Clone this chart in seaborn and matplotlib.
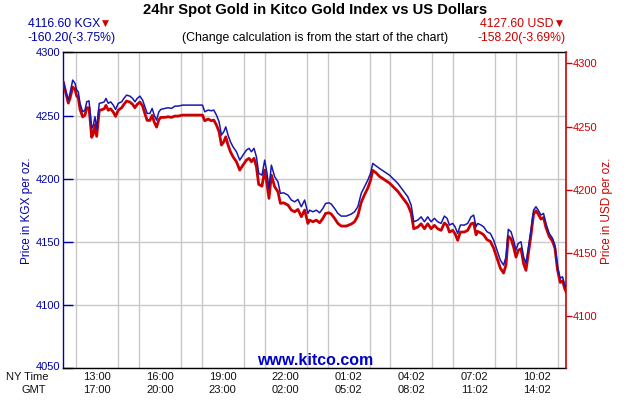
import matplotlib
matplotlib.use("Agg")
import matplotlib.pyplot as plt
import matplotlib.transforms as mtransforms
import seaborn as sns
import pandas as pd

# hours after 12:00 NY time
hours = [-0.605, -0.476, -0.367, -0.286, -0.157, -0.048, 0.033, 0.110, 0.190, 0.319,
         0.429, 0.510, 0.619, 0.667, 0.748, 0.824, 0.905, 0.986, 1.110, 1.224,
         1.348, 1.429, 1.538, 1.652, 1.776, 1.890, 2.014, 2.176, 2.286, 2.414,
         2.571, 2.700, 2.810, 2.919, 3.048, 3.176, 3.286, 3.395, 3.524, 3.633,
         3.729, 3.843, 3.952, 4.048, 4.238, 4.395, 4.557, 4.714, 4.871, 5.081,
         6.033, 6.143, 6.300, 6.462, 6.571, 6.700, 6.824, 6.938, 7.048, 7.143,
         7.252, 7.367, 7.490, 7.652, 7.810, 7.967, 8.129, 8.252, 8.367, 8.490,
         8.605, 8.714, 8.871, 9.000, 9.110, 9.205, 9.319, 9.476, 9.633, 9.748,
         9.905, 10.110, 10.271, 10.429, 10.586, 10.748, 10.905, 11.062, 11.143, 11.300,
         11.462, 11.619, 11.776, 11.905, 12.062, 12.176, 12.333, 12.490, 12.652, 12.890,
         13.129, 13.286, 13.443, 13.605, 13.762, 13.919, 14.048, 14.157, 14.319, 14.476,
         14.714, 14.952, 15.190, 15.348, 15.586, 15.824, 15.986, 16.110, 16.300, 16.462,
         16.619, 16.776, 16.938, 17.095, 17.252, 17.414, 17.571, 17.700, 17.810, 17.967,
         18.081, 18.205, 18.333, 18.524, 18.681, 18.843, 18.967, 19.081, 19.157, 19.319,
         19.443, 19.605, 19.762, 19.919, 20.081, 20.238, 20.395, 20.510, 20.619, 20.748,
         20.871, 20.986, 21.095, 21.224, 21.348, 21.462, 21.571, 21.700, 21.824, 21.938,
         22.048, 22.176, 22.300, 22.414, 22.571, 22.729, 22.843, 22.967, 23.095, 23.205,
         23.319, 23.395]

kgx = [4276.7, 4268.8, 4262.3, 4267.6, 4278.1, 4275.5, 4270.2, 4268.8, 4259.7, 4253.0,
       4254.4, 4260.9, 4261.7, 4254.4, 4239.9, 4242.5, 4249.1, 4239.9, 4259.7, 4260.1,
       4260.9, 4263.6, 4259.7, 4260.9, 4258.3, 4254.9, 4259.7, 4260.9, 4263.6, 4266.2,
       4265.4, 4263.6, 4260.9, 4263.6, 4265.4, 4262.3, 4257.0, 4251.7, 4251.7, 4255.7,
       4250.4, 4246.4, 4253.0, 4254.9, 4255.7, 4256.2, 4255.7, 4257.5, 4257.5, 4258.3,
       4258.3, 4253.0, 4254.4, 4253.8, 4254.4, 4250.4, 4245.1, 4234.6, 4237.2, 4241.1,
       4234.6, 4229.3, 4225.3, 4221.4, 4214.8, 4218.8, 4222.7, 4224.1, 4221.4, 4224.1,
       4217.4, 4204.3, 4202.9, 4214.8, 4204.3, 4192.4, 4210.8, 4201.6, 4197.6, 4188.5,
       4188.9, 4187.1, 4183.2, 4181.8, 4183.7, 4177.9, 4183.2, 4172.6, 4175.2, 4173.9,
       4175.2, 4173.1, 4176.6, 4180.5, 4181.0, 4180.0, 4176.6, 4172.6, 4170.5, 4170.5,
       4172.1, 4173.9, 4177.9, 4188.5, 4193.7, 4199.0, 4204.3, 4212.2, 4210.1, 4208.2,
       4205.5, 4202.9, 4199.0, 4196.4, 4191.1, 4185.8, 4179.2, 4166.0, 4167.3, 4169.9,
       4166.0, 4169.9, 4166.0, 4168.7, 4166.0, 4164.7, 4170.5, 4168.7, 4163.4, 4164.7,
       4162.0, 4156.8, 4163.4, 4163.4, 4164.7, 4169.9, 4171.3, 4162.0, 4164.7, 4163.4,
       4162.0, 4158.1, 4156.8, 4151.5, 4143.6, 4135.7, 4131.7, 4138.3, 4160.0, 4158.1,
       4151.5, 4143.6, 4148.9, 4150.2, 4138.3, 4133.1, 4144.9, 4159.4, 4175.2, 4177.9,
       4175.2, 4171.3, 4172.6, 4164.7, 4156.8, 4152.9, 4147.6, 4130.4, 4121.2, 4122.5,
       4115.9, 4113.3]

usd = [4285.4, 4275.9, 4268.6, 4272.3, 4281.3, 4279.5, 4274.2, 4272.8, 4263.7, 4257.7,
       4259.1, 4264.9, 4264.9, 4256.8, 4241.5, 4244.1, 4251.5, 4242.3, 4262.9, 4263.3,
       4264.1, 4266.8, 4262.9, 4264.1, 4261.5, 4258.1, 4262.9, 4264.9, 4267.6, 4270.2,
       4269.4, 4267.6, 4264.9, 4267.6, 4269.4, 4266.3, 4260.2, 4254.9, 4254.9, 4258.9,
       4253.6, 4249.6, 4255.4, 4257.3, 4257.3, 4257.8, 4257.3, 4258.3, 4258.3, 4259.1,
       4259.1, 4254.6, 4256.0, 4254.6, 4255.2, 4251.2, 4245.9, 4235.4, 4238.0, 4241.9,
       4235.4, 4230.1, 4226.1, 4222.2, 4215.6, 4219.6, 4223.5, 4224.9, 4222.2, 4224.9,
       4218.2, 4204.3, 4202.9, 4215.6, 4204.3, 4193.2, 4211.6, 4202.4, 4198.4, 4189.3,
       4189.7, 4187.9, 4184.0, 4182.6, 4184.5, 4178.7, 4184.0, 4173.4, 4176.0, 4174.7,
       4176.0, 4173.9, 4177.4, 4181.3, 4181.8, 4180.8, 4177.4, 4173.4, 4171.3, 4171.3,
       4172.9, 4174.7, 4179.5, 4190.1, 4196.1, 4201.4, 4207.5, 4215.4, 4213.3, 4210.6,
       4207.9, 4205.3, 4201.4, 4198.8, 4193.5, 4188.2, 4181.6, 4169.2, 4170.5, 4173.1,
       4169.2, 4173.1, 4169.2, 4171.9, 4169.2, 4167.9, 4173.7, 4171.9, 4166.6, 4167.9,
       4165.2, 4160.0, 4166.6, 4166.6, 4167.9, 4173.1, 4173.7, 4164.4, 4167.1, 4165.8,
       4164.4, 4160.5, 4159.2, 4153.9, 4146.0, 4138.1, 4134.1, 4140.7, 4163.2, 4161.3,
       4154.7, 4146.8, 4152.1, 4153.4, 4141.5, 4136.3, 4148.9, 4164.1, 4180.7, 4183.4,
       4180.7, 4176.8, 4178.1, 4170.2, 4163.1, 4159.2, 4153.9, 4136.7, 4126.7, 4128.0,
       4121.4, 4118.8]

tick_hours = [1, 4, 7, 10, 13, 16, 19, 22]
ny_labels = ["13:00", "16:00", "19:00", "22:00", "01:02", "04:02", "07:02", "10:02"]
gmt_labels = ["17:00", "20:00", "23:00", "02:00", "05:02", "08:02", "11:02", "14:02"]
grid_hours = list(range(0, 24))
left_ticks = [4050, 4100, 4150, 4200, 4250, 4300]
right_ticks = [4100, 4150, 4200, 4250, 4300]

BLUE = "#0000A8"
LINE_BLUE = "#1818B0"
RED = "#CC0000"

df = pd.DataFrame({"hour": hours, "kgx": kgx, "usd": usd})

sns.set_style("white")
plt.rcParams["font.family"] = ["Liberation Sans", "DejaVu Sans"]

fig = plt.figure(figsize=(6.3, 4.0), dpi=100)
ax = fig.add_axes([0.1005, 0.079, 0.7987, 0.790])
ax2 = ax.twinx()
ax3 = ax.twinx()

xmin, xmax = -0.605, 23.395
for a in (ax, ax2, ax3):
    a.set_xlim(xmin, xmax)
ax.set_ylim(4050, 4300)
ax3.set_ylim(4050, 4300)
ax2.set_ylim(4058.7, 4308.7)

# grid on base axis
ax.set_xticks(grid_hours, minor=True)
ax.grid(False)
ax.xaxis.grid(True, which="minor", color="#C8C8C8", lw=1.0)
ax.yaxis.grid(True, which="major", color="#C8C8C8", lw=1.0)
ax.set_axisbelow(True)

# lines
sns.lineplot(data=df, x="hour", y="usd", ax=ax2, color=RED, lw=2.0)
sns.lineplot(data=df, x="hour", y="kgx", ax=ax3, color=LINE_BLUE, lw=1.1)

# left axis
ax.set_yticks(left_ticks)
ax.set_yticklabels([str(t) for t in left_ticks])
ax.tick_params(axis="y", which="major", direction="in", length=7, width=1, color=BLUE,
               labelcolor=BLUE, labelsize=8, pad=2.4)
ax.set_ylabel("Price in KGX per oz.", color=BLUE, fontsize=8.5, labelpad=1.5)
lab0 = ax.get_yticklabels()[0]
lab0.set_transform(lab0.get_transform() +
                   mtransforms.ScaledTranslation(0, 2 / 72, fig.dpi_scale_trans))

ax.set_xticks(tick_hours)
ax.set_xticklabels([f"{a}\n{b}" for a, b in zip(ny_labels, gmt_labels)], linespacing=1.42)
ax.tick_params(axis="x", which="both", length=0, labelsize=8, pad=2.6, labelcolor="#111111")

ax.spines["left"].set_color(BLUE)
ax.spines["right"].set_visible(False)
ax.spines["top"].set_color("black")
ax.spines["bottom"].set_color("black")
for s in ax.spines.values():
    s.set_linewidth(1.0)

# right axis
ax2.set_yticks(right_ticks)
ax2.set_yticklabels([str(t) for t in right_ticks])
ax2.tick_params(axis="y", direction="out", length=4, width=1, color=RED, labelcolor=RED,
                labelsize=8, pad=0.8)
ax2.set_ylabel("Price in USD per oz.", color=RED, fontsize=8.5, labelpad=2)
ax2.set_xlabel("")
for k in ("left", "top", "bottom"):
    ax2.spines[k].set_visible(False)
ax2.spines["right"].set_color(RED)
ax2.spines["right"].set_linewidth(1.2)
ax2.tick_params(axis="x", length=0, labelbottom=False)

# overlay axis for blue line
ax3.axis("off")
ax.set_xlabel("")

# texts
fig.text(0.4995, 0.976, "24hr Spot Gold in Kitco Gold Index vs US Dollars", ha="center", va="center",
         fontsize=10.6, fontweight="bold", color="black")
fig.text(0.4995, 0.906, "(Change calculation is from the start of the chart)", ha="center", va="center",
         fontsize=8.8, color="black")
fig.text(0.044, 0.939, "4116.60 KGX", ha="left", va="center", fontsize=8.8, color=BLUE)
fig.text(0.162, 0.941, "\u25BC", ha="left", va="center", fontsize=6.5, color=RED,
         family=["DejaVu Sans"])
fig.text(0.044, 0.906, "-160.20(-3.75%)", ha="left", va="center", fontsize=8.8, color=BLUE)
fig.text(0.878, 0.939, "4127.60 USD", ha="right", va="center", fontsize=8.8, color=RED)
fig.text(0.8825, 0.941, "\u25BC", ha="left", va="center", fontsize=6.5, color=RED,
         family=["DejaVu Sans"])
fig.text(0.8985, 0.906, "-158.20(-3.69%)", ha="right", va="center", fontsize=8.8, color=RED)
fig.text(0.044, 0.058, "NY Time", ha="center", va="center", fontsize=8, color="#111111")
fig.text(0.053, 0.024, "GMT", ha="center", va="center", fontsize=8, color="#111111")
fig.text(0.500, 0.098, "www.kitco.com", ha="center", va="center", fontsize=11.5,
         fontweight="bold", color="#0000CC")

fig.savefig("out.png", dpi=100)
